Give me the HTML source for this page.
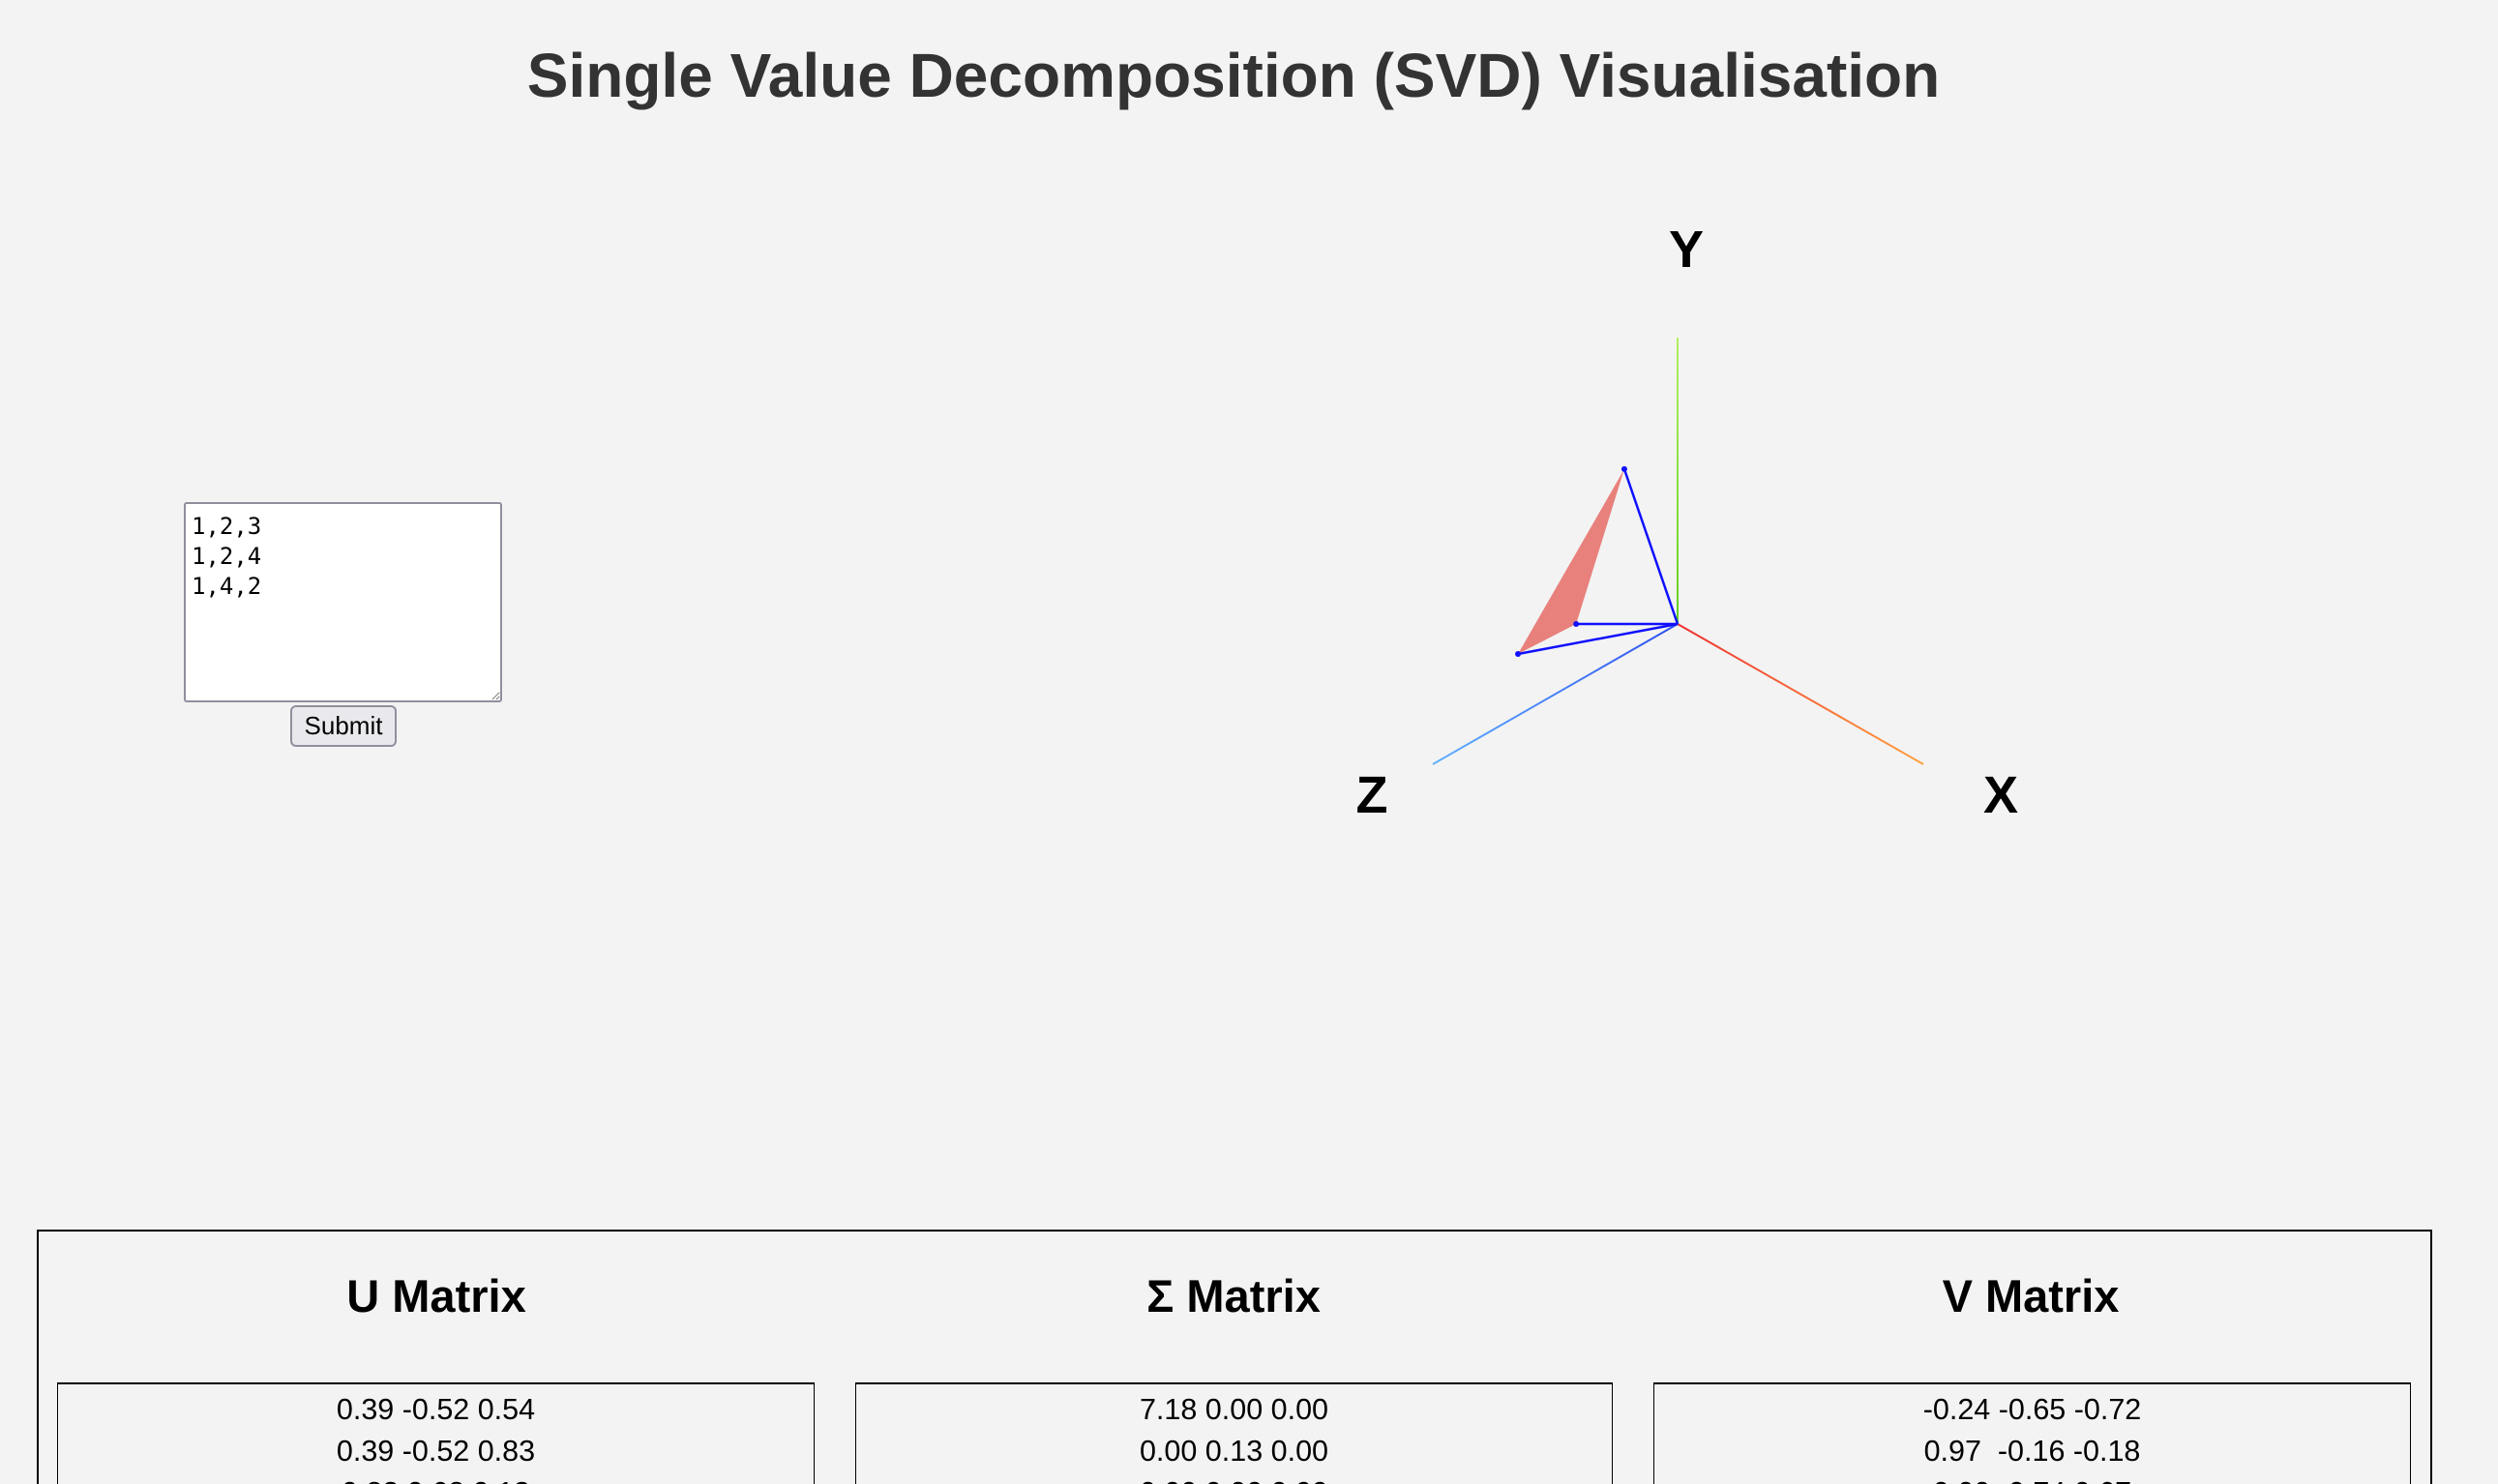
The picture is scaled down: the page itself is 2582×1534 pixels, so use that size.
<!DOCTYPE html>
<html><head><meta charset="utf-8"><style>
html,body{margin:0;padding:0;background:#f3f3f3;width:2582px;height:1534px;overflow:hidden;font-family:"Liberation Sans",Arial,sans-serif;}
#wrap{position:relative;width:2582px;height:1534px;overflow:hidden;}
.abs{position:absolute;}
h1{position:absolute;left:0;width:2550px;top:38px;margin:0;text-align:center;font-size:64px;font-weight:bold;color:#333;line-height:80px;}
textarea{position:absolute;left:190px;top:519px;width:329px;height:207px;box-sizing:border-box;border:2px solid #8f8f9d;border-radius:3px;background:#fff;font-family:"DejaVu Sans Mono","Liberation Mono",monospace;font-size:24px;line-height:31px;padding:8px 6px;resize:both;margin:0;}
button{position:absolute;left:300px;top:729px;width:110px;height:43px;box-sizing:border-box;font-family:"Liberation Sans",Arial,sans-serif;font-size:26px;background:#e9e9ed;border:2px solid #8f8f9d;border-radius:6px;padding:0;}
.panel{position:absolute;left:38px;top:1271px;width:2476px;height:263px;border:2px solid #000;border-bottom:none;box-sizing:border-box;}
.hd{position:absolute;top:1312px;width:782px;text-align:center;font-size:47px;font-weight:bold;color:#000;}
.box{position:absolute;top:1429px;width:783px;height:105px;overflow:hidden;border:2px solid #000;border-bottom:none;box-sizing:border-box;border-right-width:1px;border-left-width:1px;text-align:center;font-size:30.5px;line-height:43px;padding-top:5px;}
</style></head><body>
<div id="wrap">
<h1>Single Value Decomposition (SVD) Visualisation</h1>
<textarea>1,2,3
1,2,4
1,4,2</textarea>
<button>Submit</button>
<svg class="abs" style="left:0;top:0" width="2582" height="1200">
<defs>
<linearGradient id="gx" gradientUnits="userSpaceOnUse" x1="1734" y1="645" x2="1988" y2="790"><stop offset="0" stop-color="#f03030"/><stop offset="1" stop-color="#ffa040"/></linearGradient>
<linearGradient id="gz" gradientUnits="userSpaceOnUse" x1="1734" y1="645" x2="1481" y2="790"><stop offset="0" stop-color="#3050f0"/><stop offset="1" stop-color="#60b0ff"/></linearGradient>
<linearGradient id="gy" gradientUnits="userSpaceOnUse" x1="1734" y1="645" x2="1734" y2="349"><stop offset="0" stop-color="#60d020"/><stop offset="1" stop-color="#b0f060"/></linearGradient>
</defs>
<g id="scene"></g>
</svg>
<div class="panel"></div>
<div class="hd" style="left:60px">U Matrix</div>
<div class="hd" style="left:884px">Σ Matrix</div>
<div class="hd" style="left:1708px">V Matrix</div>
<div class="box" style="left:59px">0.39 -0.52 0.54<br>0.39 -0.52 0.83<br>0.83 0.68 0.13</div>
<div class="box" style="left:884px">7.18 0.00 0.00<br>0.00 0.13 0.00<br>0.00 0.00 0.99</div>
<div class="box" style="left:1709px">-0.24 -0.65 -0.72<br>0.97&nbsp; -0.16 -0.18<br>0.00 -0.74 0.67</div>
</div>
<script>
const pointX=[0.082,-0.015,-0.105];
const pointY=[0.728,0.2,0.1];
const pointZ=[0.3,0.637,0.309];
const axisLabels=['X','Y','Z'];
const O=[1734,645];
function proj(x,y,z){return [O[0]+254*x-253*z, O[1]+145*x-296*y+145*z];}
const NS='http://www.w3.org/2000/svg';
const g=document.getElementById('scene');
function mk(t,a){const e=document.createElementNS(NS,t);for(const k in a)e.setAttribute(k,a[k]);g.appendChild(e);return e;}
function line(p,q,c,w){return mk('line',{x1:p[0],y1:p[1],x2:q[0],y2:q[1],stroke:c,'stroke-width':w});}
let e;
e=line(O,proj(1,0,0),'url(#gx)',2);


e=line(O,proj(0,1,0),'url(#gy)',2);


e=line(O,proj(0,0,1),'url(#gz)',2);


const P=pointX.map((x,i)=>proj(x,pointY[i],pointZ[i]));
e=mk('polygon',{points:P.map(p=>p.join(',')).join(' '),fill:'#e8807c'});


P.forEach((p,i)=>{
  const l=line(O,p,'#1010ff',2.5);
  
  
  const c=mk('circle',{cx:p[0],cy:p[1],r:3,fill:'#1010ff'});
  
  
});
const lp=[[proj(1,0,0),[80,50]],[proj(0,1,0),[9,-73]],[proj(0,0,1),[-63,50]]];
lp.forEach((q,i)=>{
  const t=mk('text',{x:q[0][0]+q[1][0],y:q[0][1]+q[1][1],'text-anchor':'middle','font-size':'54','font-weight':'bold','font-family':'Liberation Sans, sans-serif',fill:'#000'});
  t.textContent=axisLabels[i];
  
  
});
</script>
</body></html>
